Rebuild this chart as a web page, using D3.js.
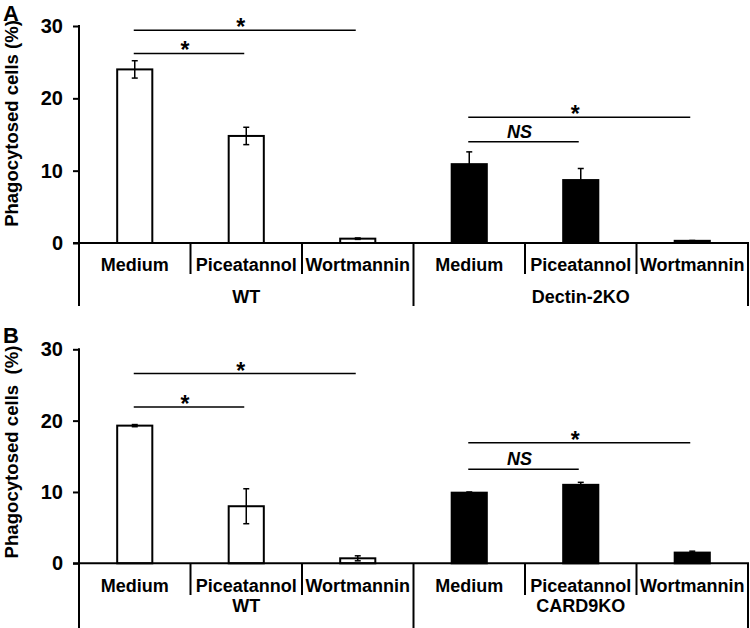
<!DOCTYPE html>
<html>
<head>
<meta charset="utf-8">
<script src="https://cdn.jsdelivr.net/npm/d3@7"></script>
<style>
  html, body { margin: 0; padding: 0; background: #fff; }
  svg { display: block; font-family: "Liberation Sans", Arial, sans-serif; font-weight: bold; }
</style>
</head>
<body>
<svg id="chart" width="750" height="628"></svg>
<script>
// ---------------- DATA ----------------
const categories = ["Medium", "Piceatannol", "Wortmannin"];
const yTicks = [0, 10, 20, 30];

// Panel A
const groupsA = ["WT", "Dectin-2KO"];
const valuesA_WT = [24.0, 14.8, 0.6];
const errorsA_WT = [1.2, 1.2, 0.1];
const valuesA_KO = [10.9, 8.7, 0.3];
const errorsA_KO = [1.7, 1.6, 0.05];

// Panel B
const groupsB = ["WT", "CARD9KO"];
const valuesB_WT = [19.3, 8.0, 0.7];
const errorsB_WT = [0.15, 2.45, 0.35];
const valuesB_KO = [9.9, 11.0, 1.5];
const errorsB_KO = [0.1, 0.35, 0.2];

// Significance annotations: [fromCategoryIndex, toCategoryIndex, label, level (y value)]
const sigA = [
  { from: 0, to: 1, label: "*", level: 26.2 },
  { from: 0, to: 2, label: "*", level: 29.4 },
  { from: 3, to: 4, label: "NS", level: 14.0 },
  { from: 3, to: 5, label: "*", level: 17.4 }
];
const sigB = [
  { from: 0, to: 1, label: "*", level: 21.9 },
  { from: 0, to: 2, label: "*", level: 26.6 },
  { from: 3, to: 4, label: "NS", level: 13.2 },
  { from: 3, to: 5, label: "*", level: 16.9 }
];

// ---------------- LAYOUT ----------------
const svg = d3.select("#chart");
const xLeft = 79, xRight = 748;

const panels = [
  { letter: "A", letterY: 20.5, top: 26, zero: 243, groups: groupsA,
    series: [[valuesA_WT, errorsA_WT, "#fff"], [valuesA_KO, errorsA_KO, "#000"]],
    sig: sigA, title: "Phagocytosed cells (%)", titleY: 123.5, titleSize: 18.5,
    catBase: 27.7, tickEnd: 31, groupBase: 60.3, longEnd: 63 },
  { letter: "B", letterY: 343, top: 349.3, zero: 563.3, groups: groupsB,
    series: [[valuesB_WT, errorsB_WT, "#fff"], [valuesB_KO, errorsB_KO, "#000"]],
    sig: sigB, title: "Phagocytosed cells  (%)", titleY: 452, titleSize: 18.6,
    catBase: 28.4, tickEnd: 31.7, groupBase: 48.4, longEnd: 66 }
];

panels.forEach(p => {
  const g = svg.append("g");
  const nSlots = p.groups.length * categories.length;
  const x = d3.scaleLinear().domain([0, nSlots]).range([xLeft, xRight]);
  const y = d3.scaleLinear().domain([0, 30]).range([p.zero, p.top]);
  const step = x(1) - x(0);
  const barW = step * 0.315;

  // panel letter
  g.append("text").attr("x", 3).attr("y", p.letterY)
    .attr("font-size", 22).attr("font-weight", "bold").text(p.letter);

  // y title
  g.append("text")
    .attr("transform", `translate(17.5,${p.titleY}) rotate(-90)`)
    .attr("text-anchor", "middle").attr("font-size", p.titleSize)
    .attr("xml:space", "preserve").style("white-space", "pre")
    .text(p.title);

  // y axis
  const yAxis = d3.axisLeft(y).tickValues(yTicks).tickSize(6).tickPadding(10).tickFormat(d3.format("d"));
  const ya = g.append("g").attr("transform", `translate(${xLeft},0)`).call(yAxis);
  ya.select(".domain").remove();
  ya.selectAll("line").attr("stroke", "#000").attr("stroke-width", 2);
  ya.selectAll("text").attr("font-size", 20).attr("font-family", "Liberation Sans, Arial, sans-serif")
    .attr("font-weight", "bold").attr("fill", "#000");
  g.append("line").attr("x1", xLeft).attr("x2", xLeft)
    .attr("y1", y(30) - 1).attr("y2", p.zero + p.longEnd)
    .attr("stroke", "#000").attr("stroke-width", 2);

  // bars
  p.series.forEach((s, gi) => {
    const [vals, errs, fill] = s;
    vals.forEach((v, ci) => {
      const slot = gi * categories.length + ci;
      const cx = x(slot + 0.5);
      g.append("rect")
        .attr("x", cx - barW / 2).attr("y", y(v))
        .attr("width", barW).attr("height", y(0) - y(v))
        .attr("fill", fill).attr("stroke", "#000").attr("stroke-width", 2);
      const e = errs[ci];
      const eg = g.append("g").attr("stroke", "#000").attr("stroke-width", 1.5);
      eg.append("line").attr("x1", cx).attr("x2", cx).attr("y1", y(v + e)).attr("y2", y(v - e));
      eg.append("line").attr("x1", cx - 3).attr("x2", cx + 3).attr("y1", y(v + e)).attr("y2", y(v + e));
      eg.append("line").attr("x1", cx - 3).attr("x2", cx + 3).attr("y1", y(v - e)).attr("y2", y(v - e));
    });
  });

  // x axis line
  g.append("line").attr("x1", xLeft - 6).attr("x2", xRight + 1)
    .attr("y1", p.zero).attr("y2", p.zero).attr("stroke", "#000").attr("stroke-width", 2);

  // separators and labels
  for (let s = 1; s <= nSlots; s++) {
    const isGroupEdge = s % categories.length === 0;
    g.append("line").attr("x1", x(s)).attr("x2", x(s))
      .attr("y1", p.zero).attr("y2", p.zero + (isGroupEdge ? p.longEnd : p.tickEnd))
      .attr("stroke", "#000").attr("stroke-width", 2);
  }
  p.groups.forEach((grp, gi) => {
    categories.forEach((c, ci) => {
      const slot = gi * categories.length + ci;
      g.append("text").attr("x", x(slot + 0.5)).attr("y", p.zero + p.catBase)
        .attr("text-anchor", "middle").attr("font-size", 18).text(c);
    });
    g.append("text").attr("x", x(gi * categories.length + categories.length / 2))
      .attr("y", p.zero + p.groupBase)
      .attr("text-anchor", "middle").attr("font-size", 18).text(grp);
  });

  // significance
  p.sig.forEach(sg => {
    const x1 = x(sg.from + 0.5) - 1, x2 = x(sg.to + 0.5) - 2;
    const ly = y(sg.level);
    g.append("line").attr("x1", x1).attr("x2", x2).attr("y1", ly).attr("y2", ly)
      .attr("stroke", "#000").attr("stroke-width", 1.5);
    const mx = (x1 + x2) / 2 - 4;
    if (sg.label === "NS") {
      g.append("text").attr("x", mx).attr("y", ly - 4).attr("text-anchor", "middle")
        .attr("font-size", 18).attr("font-style", "italic").text(sg.label);
    } else {
      g.append("text").attr("x", mx).attr("y", ly + 5).attr("text-anchor", "middle")
        .attr("font-size", 23).text(sg.label);
    }
  });
});
</script>
</body>
</html>
